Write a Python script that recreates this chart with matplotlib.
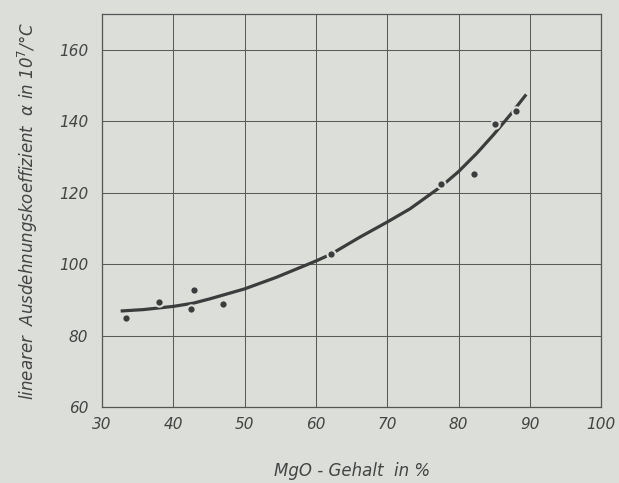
import numpy as np
import matplotlib.pyplot as plt

# Messpunkte (MgO-Gehalt in %, alpha in 10^7/°C)
mgo = [33.3, 38.0, 42.5, 42.9, 47.0, 62.1, 77.6, 82.2, 85.1, 88.1]
alpha = [85.0, 89.4, 87.5, 92.8, 88.9, 102.8, 122.4, 125.2, 139.3, 143.0]

# Ausgleichskurve
curve_x = [32.6, 35.8, 40, 42.8, 45.1, 50, 54.4, 57.2, 60, 62.1,
           66.1, 70, 73.2, 77.6, 80, 82.6, 84.9, 87.3, 89.5]
curve_y = [86.9, 87.3, 88.2, 89.1, 90.3, 93.1, 96.3, 98.6, 100.9, 102.8,
           107.5, 111.8, 115.5, 121.8, 125.9, 131.1, 136.2, 141.9, 147.5]

xticks = [30, 40, 50, 60, 70, 80, 90, 100]
yticks = [60, 80, 100, 120, 140, 160]

bg = "#dcdeda"
ink = "#3c3c3c"
txt = "#444444"

fig = plt.figure(figsize=(6.19, 4.83), dpi=100, facecolor=bg)
ax = fig.add_axes([0.165, 0.157, 0.806, 0.814])
ax.set_facecolor(bg)

ax.plot(curve_x, curve_y, color=ink, lw=2.3, solid_capstyle="butt",
        solid_joinstyle="round", zorder=3)
ax.plot(mgo, alpha, "o", ms=6, color=ink, mec=bg, mew=1.5, zorder=4)

ax.set_xlim(30, 100)
ax.set_ylim(60, 170)
ax.set_xticks(xticks)
ax.set_yticks(yticks)
ax.grid(True, color="#5a5a5a", lw=0.75)
ax.tick_params(axis="x", length=0, pad=7, labelsize=11, labelcolor=txt)
ax.tick_params(axis="y", length=0, pad=10, labelsize=11, labelcolor=txt)
for lab in ax.get_xticklabels() + ax.get_yticklabels():
    lab.set_fontstyle("italic")
for s in ax.spines.values():
    s.set_color("#555555")
    s.set_linewidth(0.9)

ax.set_xlabel("MgO - Gehalt  in %", fontsize=12, style="italic", color=txt, labelpad=22)
ax.set_ylabel("linearer  Ausdehnungskoeffizient  α in 10$^7$/°C", fontsize=12,
              style="italic", color=txt, labelpad=14)

fig.savefig("out.png", facecolor=bg)
